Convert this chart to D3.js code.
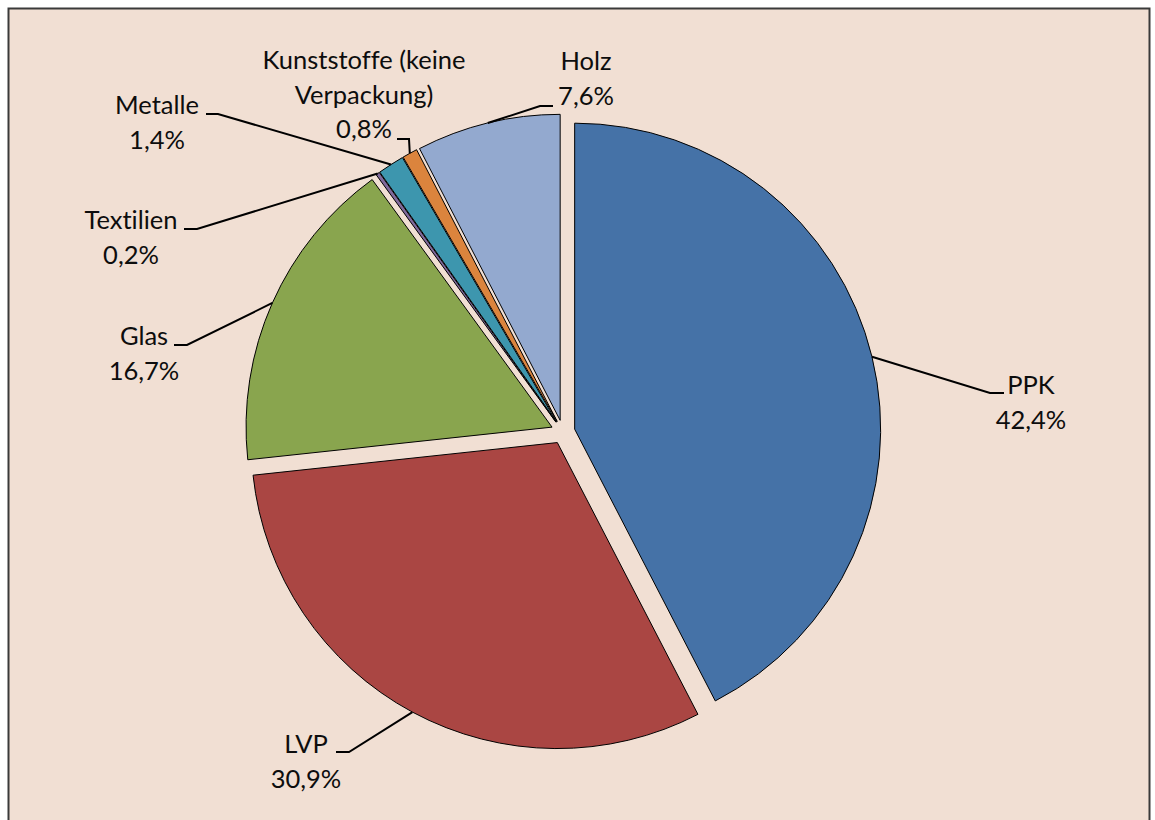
<!DOCTYPE html>
<html>
<head>
<meta charset="utf-8">
<script src="https://cdn.jsdelivr.net/npm/d3@7"></script>
<style>
  html, body { margin: 0; padding: 0; background: #fff; }
  svg { display: block; }
  .lbl { font-family: Lato, "Open Sans", sans-serif; font-size: 25.5px; fill: #0d0d0d; font-variant-ligatures: none; }
</style>
</head>
<body>
<div id="chart"></div>
<script>
// Daten
var categories = ["PPK", "LVP", "Glas", "Textilien", "Metalle", "Kunststoffe (keine Verpackung)", "Holz"];
var values = [42.4, 30.9, 16.7, 0.2, 1.4, 0.8, 7.6];
var nameLines = [["PPK"], ["LVP"], ["Glas"], ["Textilien"], ["Metalle"], ["Kunststoffe (keine", "Verpackung)"], ["Holz"]];
var colors = ["#4572A7", "#AA4643", "#89A54E", "#80699B", "#3D96AE", "#DB843D", "#93A9CF"];

// Beschriftungen: Textmitte, erste Grundlinie, Knick- und Endpunkt der Linie
var labelLayout = [
  {tx: 1031, ty: 394, kx: 990, ex: 1004, ly: 393},
  {tx: 306, ty: 753, kx: 349, ex: 336, ly: 752},
  {tx: 144, ty: 345, kx: 187, ex: 174, ly: 345},
  {tx: 131, ty: 229, kx: 197, ex: 184, ly: 229},
  {tx: 157, ty: 114, kx: 218, ex: 206, ly: 114},
  {tx: 364, ty: 69, kx: 409, ex: 397, ly: 139},
  {tx: 586, ty: 70, kx: 540, ex: 553, ly: 106}
];

var width = 1155, height = 820;
var cx = 563, cy = 432, radius = 306, explode = 12;
var lineH = 34.5;

var svg = d3.select("#chart").append("svg")
  .attr("width", width)
  .attr("height", height);

// Hintergrund + Rahmen
svg.append("rect")
  .attr("x", 8.5).attr("y", 8.5)
  .attr("width", 1141).attr("height", 830)
  .attr("fill", "#F1DFD3")
  .attr("stroke", "#3a3a3a")
  .attr("stroke-width", 2);

var pie = d3.pie().sort(null).value(function (d) { return d; });
var arcs = pie(values);
var arc = d3.arc().innerRadius(0).outerRadius(radius);

var fmt = d3.format(".1f");

var g = svg.append("g").attr("transform", "translate(" + cx + "," + cy + ")");

arcs.forEach(function (a, i) {
  var mid = (a.startAngle + a.endAngle) / 2;
  var ox = explode * Math.sin(mid), oy = -explode * Math.cos(mid);
  g.append("path")
    .attr("d", arc(a))
    .attr("transform", "translate(" + ox + "," + oy + ")")
    .attr("fill", colors[i])
    .attr("stroke", "#000")
    .attr("stroke-width", 1)
    .attr("stroke-linejoin", "round");
});

// Führungslinien und Texte
arcs.forEach(function (a, i) {
  var mid = (a.startAngle + a.endAngle) / 2;
  var r = radius + explode;
  var px = cx + r * Math.sin(mid), py = cy - r * Math.cos(mid);
  var L = labelLayout[i];
  svg.append("polyline")
    .attr("points", [[px, py], [L.kx, L.ly], [L.ex, L.ly]].map(function (p) { return p.join(","); }).join(" "))
    .attr("fill", "none")
    .attr("stroke", "#000")
    .attr("stroke-width", 2);

  var lines = nameLines[i].concat([fmt(values[i]).replace(".", ",") + "%"]);
  var t = svg.append("text")
    .attr("class", "lbl")
    .attr("text-anchor", "middle");
  lines.forEach(function (s, k) {
    t.append("tspan")
      .attr("x", L.tx)
      .attr("y", L.ty + k * lineH)
      .text(s);
  });
});
</script>
</body>
</html>
